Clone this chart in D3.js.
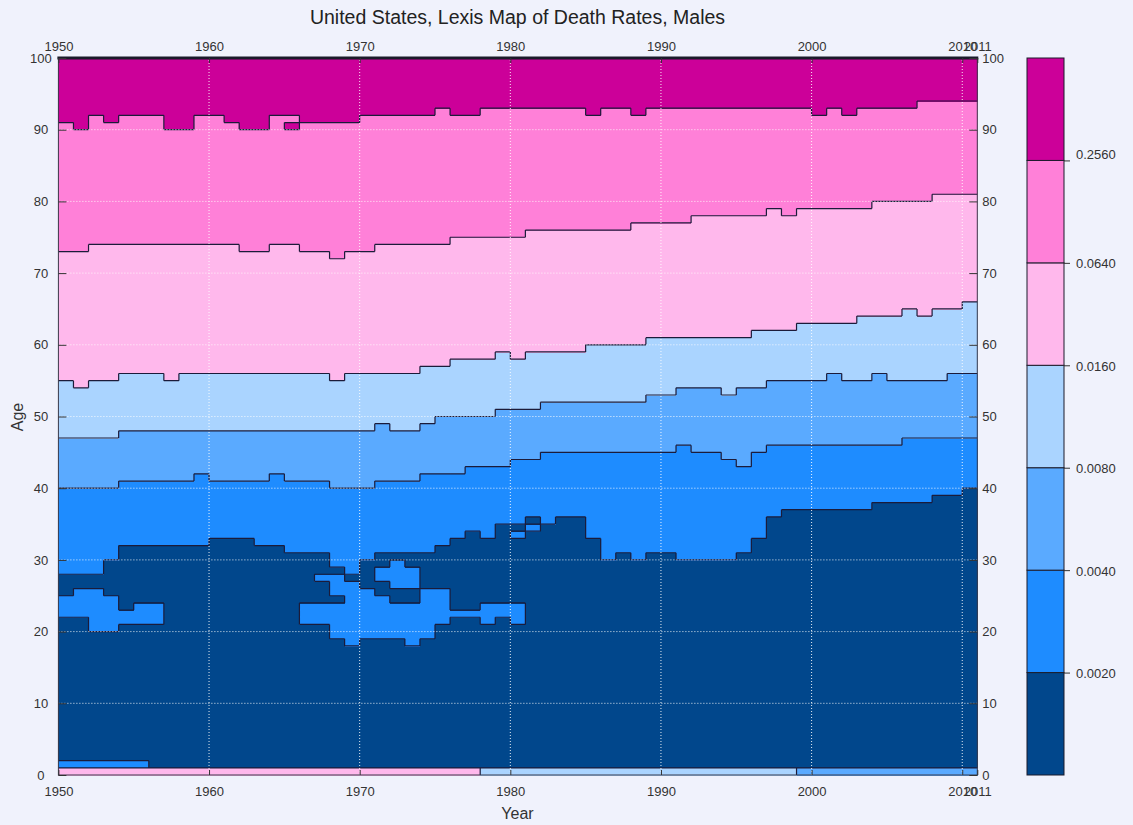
<!DOCTYPE html>
<html>
<head>
<meta charset="utf-8">
<script src="https://cdn.jsdelivr.net/npm/d3@7"></script>
<style>
  body { margin: 0; background: #f0f2fc; }
  svg { display: block; font-family: "Liberation Sans", Arial, sans-serif; }
</style>
</head>
<body>
<svg id="chart" width="1133" height="825"></svg>
<script>
// Death-rate class thresholds and the colour of each class (lowest to highest)
const thresholds = [0.002, 0.004, 0.008, 0.016, 0.064, 0.256];
const palette = ["#01478c", "#1e8cff", "#5aaaff", "#aad4ff", "#ffb8ec", "#ff80d8", "#cc0099"];

// Calendar years, one column each (1950 ... 2010)
const years = d3.range(1950, 2011);
const xTicks = [1950, 1960, 1970, 1980, 1990, 2000, 2010, 2011];
const yTicks = [0, 10, 20, 30, 40, 50, 60, 70, 80, 90, 100];

// Class of the age-0 row per year
const infant = [4,4,4,4,4,4,4,4,4,4, 4,4,4,4,4,4,4,4,4,4, 4,4,4,4,4,4,4,4,3,3,
                3,3,3,3,3,3,3,3,3,3, 3,3,3,3,3,3,3,3,3,2, 2,2,2,2,2,2,2,2,2,2,2];

// Lowest age at which each threshold is exceeded, per year
const b2 = [40,40,40,40,41,41,41,41,41,42, 41,41,41,41,42,41,41,41,40,40,
            40,41,41,41,42,42,42,43,43,43, 44,44,45,45,45,45,45,45,45,45,
            45,46,45,45,44,43,45,46,46,46, 46,46,46,46,46,46,47,47,47,47,47];
const b3 = [47,47,47,47,48,48,48,48,48,48, 48,48,48,48,48,48,48,48,48,48,
            48,49,48,48,49,50,50,50,50,51, 51,51,52,52,52,52,52,52,52,53,
            53,54,54,54,53,54,54,55,55,55, 55,56,55,55,56,55,55,55,55,56,56];
const b4 = [55,54,55,55,56,56,56,55,56,56, 56,56,56,56,56,56,56,56,55,56,
            56,56,56,56,57,57,58,58,58,59, 58,59,59,59,59,60,60,60,60,61,
            61,61,61,61,61,61,62,62,62,63, 63,63,63,64,64,64,65,64,65,65,66];
const b5 = [73,73,74,74,74,74,74,74,74,74, 74,74,73,73,74,74,73,73,72,73,
            73,74,74,74,74,74,75,75,75,75, 75,76,76,76,76,76,76,76,77,77,
            77,77,78,78,78,78,78,79,78,79, 79,79,79,79,80,80,80,80,81,81,81];
const b6 = [91,90,92,91,92,92,92,90,90,92, 92,91,90,90,92,92,91,91,91,91,
            92,92,92,92,92,93,92,92,93,93, 93,93,93,93,93,92,93,93,92,93,
            93,93,93,93,93,93,93,93,93,93, 92,93,92,93,93,93,93,94,94,94,94];

// Below the 0.004 line: ages where the class switches between <0.002 and 0.002-0.004
const lowFlips = [
  [1,2,22,25,28], [1,2,22,26,28], [1,2,20,26,28], [1,2,20,25,30], [1,2,21,23,32],
  [1,2,21,24,32], [21,24,32], [32], [32], [32],
  [33], [33], [33], [32], [32],
  [31], [21,24,31], [21,24,27,28,31], [19,24,25,28,29], [18,27,28],
  [19,26,30], [19,25,27,29,31], [19,24,26,30,31], [18,24,26,29,31], [19,26,31],
  [21,26,32], [22,23,33], [22,23,34], [21,24,33], [22,24,35],
  [21,24,33,34,35], [34,35,36], [35], [36], [36],
  [33], [30], [31], [30], [31],
  [31], [30], [30], [30], [30],
  [31], [33], [36], [37], [37],
  [37], [37], [37], [37], [38],
  [38], [38], [38], [39], [39], [40]
];

// Isolated cells: [year, age, class]
const islands = [[1965, 90, 6]];

// ---- grid of classes ----
const grid = years.map((yr, i) => {
  const col = [];
  for (let a = 0; a < 100; a++) {
    let c;
    if (a === 0) c = infant[i];
    else if (a >= b6[i]) c = 6;
    else if (a >= b5[i]) c = 5;
    else if (a >= b4[i]) c = 4;
    else if (a >= b3[i]) c = 3;
    else if (a >= b2[i]) c = 2;
    else c = lowFlips[i].filter(f => f <= a).length % 2;
    col.push(c);
  }
  return col;
});
islands.forEach(([yr, age, c]) => { grid[yr - 1950][age] = c; });

// ---- layout ----
const svg = d3.select("#chart");
const x = d3.scaleLinear().domain([1950, 2011]).range([58.4, 977.3]);
const y = d3.scaleLinear().domain([0, 100]).range([775, 58]);

svg.append("rect").attr("width", 1133).attr("height", 825).attr("fill", "#f0f2fc");

// cells, merged into vertical runs of equal class
const cells = svg.append("g").attr("shape-rendering", "crispEdges");
grid.forEach((col, i) => {
  let start = 0;
  for (let a = 1; a <= 100; a++) {
    if (a === 100 || col[a] !== col[start]) {
      cells.append("rect")
        .attr("x", x(years[i]))
        .attr("width", x(years[i] + 1) - x(years[i]) + 0.6)
        .attr("y", y(a))
        .attr("height", y(start) - y(a) + 0.6)
        .attr("fill", palette[col[start]]);
      start = a;
    }
  }
});

// class boundaries as stepped lines
let p = "";
grid.forEach((col, i) => {
  const x0 = x(years[i]), x1 = x(years[i] + 1);
  for (let a = 0; a < 99; a++) {
    if (col[a] !== col[a + 1]) p += `M${x0},${y(a + 1)}H${x1}`;
  }
  if (i < grid.length - 1) {
    const nxt = grid[i + 1];
    for (let a = 0; a < 100; a++) {
      if (col[a] !== nxt[a]) p += `M${x1},${y(a)}V${y(a + 1)}`;
    }
  }
});
svg.append("path").attr("d", p).attr("fill", "none")
  .attr("stroke", "#1b1b3a").attr("stroke-width", 1.2);

// dotted white grid
const gridG = svg.append("g").attr("stroke", "#ffffff").attr("stroke-width", 1)
  .attr("stroke-dasharray", "1,2").attr("opacity", 0.9);
[1960, 1970, 1980, 1990, 2000, 2010].forEach(v => {
  gridG.append("line").attr("x1", x(v)).attr("x2", x(v)).attr("y1", y(0)).attr("y2", y(100));
});
[10, 20, 30, 40, 50, 60, 70, 80, 90].forEach(v => {
  gridG.append("line").attr("x1", x(1950)).attr("x2", x(2011)).attr("y1", y(v)).attr("y2", y(v));
});

// frame
svg.append("rect").attr("x", x(1950)).attr("y", y(100))
  .attr("width", x(2011) - x(1950)).attr("height", y(0) - y(100))
  .attr("fill", "none").attr("stroke", "#3a3a4a").attr("stroke-width", 1);
svg.append("line").attr("x1", x(1950) - 1).attr("x2", x(2011) + 1)
  .attr("y1", y(100)).attr("y2", y(100)).attr("stroke", "#1a1a2a").attr("stroke-width", 3);

// axes
function styleAxis(g) {
  g.select(".domain").remove();
  g.selectAll("line").attr("stroke", "#333");
  g.selectAll("text").attr("fill", "#333").attr("font-size", 13)
    .attr("font-family", "'Liberation Sans', Arial, sans-serif");
}
svg.append("g").attr("transform", `translate(0,${y(0)})`)
  .call(d3.axisBottom(x).tickValues(xTicks).tickFormat(d3.format("d")).tickSize(-5).tickPadding(12))
  .call(styleAxis);
svg.append("g").attr("transform", `translate(0,${y(100)})`)
  .call(d3.axisTop(x).tickValues(xTicks).tickFormat(d3.format("d")).tickSize(-5).tickPadding(7))
  .call(styleAxis);
svg.append("g").attr("transform", `translate(${x(1950)},0)`)
  .call(d3.axisLeft(y).tickValues(yTicks).tickSize(-8).tickPadding(6))
  .call(styleAxis)
  .call(g => g.selectAll("text").attr("text-anchor", "middle").attr("x", -17.5));
svg.append("g").attr("transform", `translate(${x(2011)},0)`)
  .call(d3.axisRight(y).tickValues(yTicks).tickSize(-8).tickPadding(5))
  .call(styleAxis);

// titles
svg.append("text").attr("x", 517.5).attr("y", 24).attr("text-anchor", "middle")
  .attr("font-size", 19.5).attr("fill", "#222")
  .text("United States, Lexis Map of Death Rates, Males");
svg.append("text").attr("x", 517.5).attr("y", 819).attr("text-anchor", "middle")
  .attr("font-size", 16).attr("fill", "#333").text("Year");
svg.append("text").attr("transform", "translate(23,417) rotate(-90)")
  .attr("text-anchor", "middle").attr("font-size", 16).attr("fill", "#333").text("Age");

// colour bar
const cb = svg.append("g");
const cy = d3.scaleLinear().domain([0, palette.length]).range([775, 58]);
palette.forEach((col, k) => {
  cb.append("rect").attr("x", 1027).attr("width", 37)
    .attr("y", cy(k + 1)).attr("height", cy(k) - cy(k + 1))
    .attr("fill", col).attr("stroke", "#1b1b2a").attr("stroke-width", 1);
});
cb.append("g").attr("transform", "translate(1064,0)")
  .call(d3.axisRight(cy).tickValues(d3.range(1, palette.length))
    .tickFormat(k => d3.format(".4f")(thresholds[k - 1])).tickSize(6).tickPadding(6))
  .call(styleAxis)
  .call(g => g.selectAll("text").attr("dy", k => k === palette.length - 1 ? "-0.15em" : "0.38em"));
</script>
</body>
</html>
